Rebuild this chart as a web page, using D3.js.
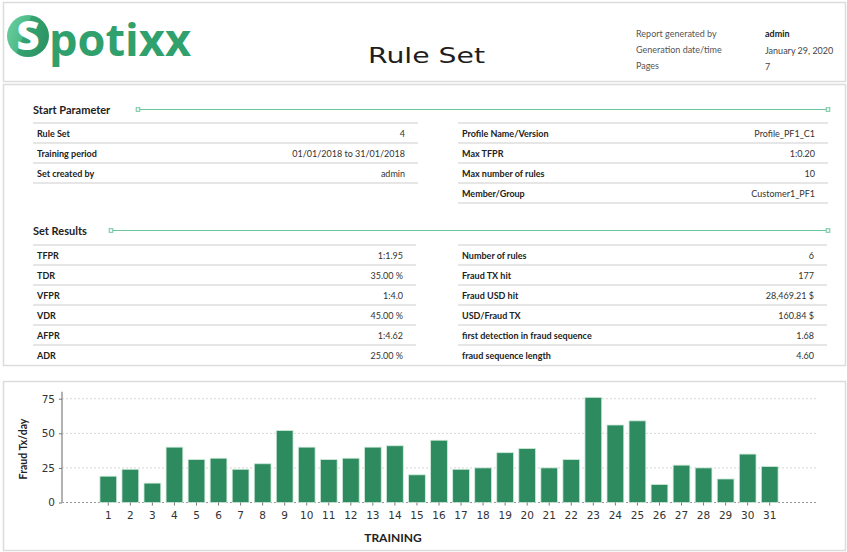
<!DOCTYPE html>
<html>
<head>
<meta charset="utf-8">
<script src="https://cdn.jsdelivr.net/npm/d3@7"></script>
<style>
  body { margin: 0; background: #fff; }
  svg { display: block; }
</style>
</head>
<body>
<svg id="page" width="847" height="552"></svg>
<script>
// Report header
const headerLabels = ["Report generated by", "Generation date/time", "Pages"];
const headerValues = ["admin", "January 29, 2020", "7"];

// Start parameter tables
const startLeftLabels = ["Rule Set", "Training period", "Set created by"];
const startLeftValues = ["4", "01/01/2018 to 31/01/2018", "admin"];
const startRightLabels = ["Profile Name/Version", "Max TFPR", "Max number of rules", "Member/Group"];
const startRightValues = ["Profile_PF1_C1", "1:0.20", "10", "Customer1_PF1"];

// Set results tables
const resultLeftLabels = ["TFPR", "TDR", "VFPR", "VDR", "AFPR", "ADR"];
const resultLeftValues = ["1:1.95", "35.00 %", "1:4.0", "45.00 %", "1:4.62", "25.00 %"];
const resultRightLabels = ["Number of rules", "Fraud TX hit", "Fraud USD hit", "USD/Fraud TX",
  "first detection in fraud sequence", "fraud sequence length"];
const resultRightValues = ["6", "177", "28,469.21 $", "160.84 $", "1.68", "4.60"];

// Chart data
const days = ["1","2","3","4","5","6","7","8","9","10","11","12","13","14","15","16",
  "17","18","19","20","21","22","23","24","25","26","27","28","29","30","31"];
const fraudTx = [19, 24, 14, 40, 31, 32, 24, 28, 52, 40, 31, 32, 40, 41, 20, 45,
  24, 25, 36, 39, 25, 31, 76, 56, 59, 13, 27, 25, 17, 35, 26];
const yTicks = [0, 25, 50, 75];

const svg = d3.select("#page");
const font = "Lato, 'Open Sans', sans-serif";
const green = "#2e8b5f";
const mint = "#6cc59c";

// Panels
const panels = [
  { x: 3, y: 2, w: 842, h: 79 },
  { x: 3, y: 84, w: 842, h: 281 },
  { x: 3, y: 381, w: 842, h: 169 }
];
svg.selectAll("rect.panel")
  .data(panels)
  .enter()
  .append("rect")
  .attr("class", "panel")
  .attr("x", d => d.x + 0.5)
  .attr("y", d => d.y + 0.5)
  .attr("width", d => d.w)
  .attr("height", d => d.h)
  .attr("fill", "#fff")
  .attr("stroke", "#dcdcdc")
  .attr("stroke-width", 1.5);

// Logo
const defs = svg.append("defs");
const lg = defs.append("linearGradient")
  .attr("id", "logoGrad")
  .attr("x1", "0%").attr("y1", "0%")
  .attr("x2", "100%").attr("y2", "40%");
lg.append("stop").attr("offset", "0%").attr("stop-color", "#6fd0a2");
lg.append("stop").attr("offset", "50%").attr("stop-color", "#4dbb86");
lg.append("stop").attr("offset", "51%").attr("stop-color", "#35a372");
lg.append("stop").attr("offset", "100%").attr("stop-color", "#2c9566");

svg.append("circle")
  .attr("cx", 28).attr("cy", 36).attr("r", 21)
  .attr("fill", "url(#logoGrad)");
svg.append("text")
  .attr("x", 28).attr("y", 50)
  .attr("text-anchor", "middle")
  .attr("font-family", "'Open Sans', sans-serif")
  .attr("font-weight", 800)
  .attr("font-size", 40)
  .attr("fill", "#fff")
  .text("S");
svg.append("text")
  .attr("x", 49).attr("y", 56)
  .attr("font-family", "'Open Sans', sans-serif")
  .attr("font-weight", 700)
  .attr("font-size", 44)
  .attr("textLength", 142)
  .attr("lengthAdjust", "spacingAndGlyphs")
  .attr("fill", "#30a06c")
  .text("potixx");

// Title
svg.append("text")
  .attr("x", 368).attr("y", 63)
  .attr("font-family", "'DejaVu Sans', sans-serif")
  .attr("font-size", 21)
  .attr("textLength", 117)
  .attr("lengthAdjust", "spacingAndGlyphs")
  .attr("fill", "#1e1e1e")
  .text("Rule Set");

// Header info
headerLabels.forEach((t, i) => {
  svg.append("text")
    .attr("x", 636).attr("y", 37 + i * 16)
    .attr("font-family", font).attr("font-size", 9)
    .attr("fill", "#555").text(t);
  svg.append("text")
    .attr("x", 765).attr("y", 37 + i * 16.5)
    .attr("font-family", font).attr("font-size", 9)
    .attr("font-weight", i === 0 ? 700 : 400)
    .attr("fill", i === 0 ? "#222" : "#444").text(headerValues[i]);
});

// Section headings with green rule line
function section(title, y, lineStart) {
  svg.append("text")
    .attr("x", 33).attr("y", y + 4)
    .attr("font-family", font).attr("font-size", 11)
    .attr("font-weight", 700).attr("fill", "#222")
    .text(title);
  svg.append("line")
    .attr("x1", lineStart).attr("x2", 828)
    .attr("y1", y).attr("y2", y)
    .attr("stroke", mint).attr("stroke-width", 1.2);
  [lineStart, 828].forEach(x => {
    svg.append("rect")
      .attr("x", x - 1.8).attr("y", y - 1.8)
      .attr("width", 3.6).attr("height", 3.6)
      .attr("fill", "#fff").attr("stroke", mint).attr("stroke-width", 1);
  });
}

function table(labels, values, x0, x1, top, rowH, bottomLine) {
  const g = svg.append("g");
  const n = labels.length;
  const lines = d3.range(bottomLine ? n + 1 : n);
  g.selectAll("line")
    .data(lines)
    .enter()
    .append("line")
    .attr("x1", x0).attr("x2", x1)
    .attr("y1", i => top + i * rowH).attr("y2", i => top + i * rowH)
    .attr("stroke", "#dedede").attr("stroke-width", 1.5);
  g.selectAll("text.lbl")
    .data(labels)
    .enter()
    .append("text")
    .attr("class", "lbl")
    .attr("x", x0 + 4)
    .attr("y", (d, i) => top + i * rowH + rowH / 2 + 3.5)
    .attr("font-family", font).attr("font-size", 9)
    .attr("font-weight", 700).attr("fill", "#222")
    .text(d => d);
  g.selectAll("text.val")
    .data(values)
    .enter()
    .append("text")
    .attr("class", "val")
    .attr("x", x1 - 13)
    .attr("y", (d, i) => top + i * rowH + rowH / 2 + 3.5)
    .attr("text-anchor", "end")
    .attr("font-family", font).attr("font-size", 9)
    .attr("fill", "#333")
    .text(d => d);
}

section("Start Parameter", 109.5, 138);
table(startLeftLabels, startLeftValues, 33, 418, 123, 20, true);
table(startRightLabels, startRightValues, 458, 828, 123, 20, true);

section("Set Results", 230.5, 111);
table(resultLeftLabels, resultLeftValues, 33, 416, 245, 20, false);
table(resultRightLabels, resultRightValues, 458, 827, 245, 20, false);

// Bar chart
const x = d3.scaleBand()
  .domain(days)
  .range([62, 816])
  .paddingInner(0.24)
  .paddingOuter(1.72);
const y = d3.scaleLinear()
  .domain([0, 80])
  .range([502.5, 391.8]);

const chart = svg.append("g");

// gridlines
chart.selectAll("line.grid")
  .data(yTicks)
  .enter()
  .append("line")
  .attr("class", "grid")
  .attr("x1", 62).attr("x2", 816)
  .attr("y1", d => y(d)).attr("y2", d => y(d))
  .attr("stroke", d => d === 0 ? "#999" : "#d6d6d6")
  .attr("stroke-width", d => d === 0 ? 1.2 : 1)
  .attr("stroke-dasharray", "2,2");

chart.selectAll("rect.bar")
  .data(fraudTx)
  .enter()
  .append("rect")
  .attr("class", "bar")
  .attr("x", (d, i) => x(days[i]))
  .attr("y", d => y(d))
  .attr("width", x.bandwidth())
  .attr("height", d => y(0) - y(d))
  .attr("fill", green)
  .attr("stroke", "#cfe9da")
  .attr("stroke-width", 0.8);

// y axis
const yAxis = chart.append("g")
  .attr("transform", "translate(62,0)")
  .call(d3.axisLeft(y).tickValues(yTicks).tickSize(3).tickPadding(4));
yAxis.select(".domain").attr("stroke", "#aaa").attr("stroke-width", 1.8)
  .attr("d", `M0,${y(80)}V${y(0)}`);
yAxis.selectAll(".tick line").attr("stroke", "#777");
yAxis.selectAll(".tick text")
  .attr("font-family", "'DejaVu Sans', sans-serif")
  .attr("font-size", 10.5).attr("fill", "#333");

// x axis
const xAxis = chart.append("g")
  .attr("transform", `translate(0,${y(0)})`)
  .call(d3.axisBottom(x).tickSize(3).tickPadding(6));
xAxis.select(".domain").remove();
xAxis.selectAll(".tick line").attr("stroke", "#777");
xAxis.selectAll(".tick text")
  .attr("font-family", "'DejaVu Sans', sans-serif")
  .attr("font-size", 10.5).attr("fill", "#333");

// axis titles
svg.append("text")
  .attr("transform", "translate(27,449) rotate(-90)")
  .attr("text-anchor", "middle")
  .attr("font-family", font).attr("font-size", 10.5)
  .attr("font-weight", 700).attr("fill", "#222")
  .text("Fraud Tx/day");
svg.append("text")
  .attr("x", 393).attr("y", 542)
  .attr("text-anchor", "middle")
  .attr("font-family", font).attr("font-size", 12)
  .attr("font-weight", 700).attr("fill", "#222")
  .text("TRAINING");
</script>
</body>
</html>
